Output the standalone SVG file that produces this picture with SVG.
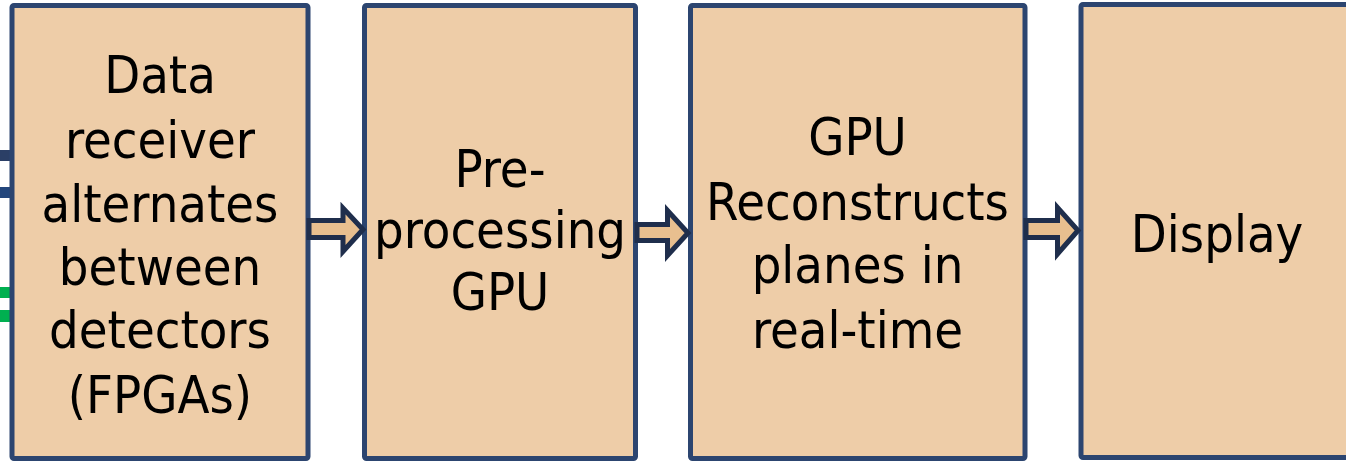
<svg xmlns="http://www.w3.org/2000/svg" width="1346" height="461" viewBox="0 0 1346 461">
<style>
.box{fill:#eecda8;stroke:#2c4570;stroke-width:5}
.lbl{font-family:"DejaVu Sans Condensed","DejaVu Sans","Liberation Sans",sans-serif;font-size:52px;fill:#000;text-anchor:middle}
.arr{fill:#e8bf8f;stroke:#1f2e4c;stroke-width:5;stroke-linejoin:miter}
</style>
<rect width="1346" height="461" fill="#fff"/>
<g id="connectors">
<rect x="0" y="150" width="11" height="11" fill="#2b3f66"/>
<rect x="0" y="187" width="11" height="11" fill="#23467c"/>
<rect x="0" y="287" width="11" height="11" fill="#00b050"/>
<rect x="0" y="310" width="11" height="12" fill="#00b050"/>
</g>
<g id="node-receiver">
<rect class="box" x="12" y="5.5" width="296" height="453" rx="2"/>
<text class="lbl" x="160" y="93">Data</text>
<text class="lbl" x="160" y="158">receiver</text>
<text class="lbl" x="160" y="221.5">alternates</text>
<text class="lbl" x="160" y="285">between</text>
<text class="lbl" x="160" y="348">detectors</text>
<text class="lbl" x="160" y="413">(FPGAs)</text>
</g>
<g id="node-preprocessing">
<rect class="box" x="364.5" y="5.5" width="271" height="453" rx="2"/>
<text class="lbl" x="500" y="186.5">Pre-</text>
<text class="lbl" x="500" y="248">processing</text>
<text class="lbl" x="500" y="310">GPU</text>
</g>
<g id="node-reconstruct">
<rect class="box" x="690.5" y="5.5" width="334.5" height="453" rx="2"/>
<text class="lbl" x="857.5" y="155">GPU</text>
<text class="lbl" x="857.5" y="220">Reconstructs</text>
<text class="lbl" x="857.5" y="283">planes in</text>
<text class="lbl" x="857.5" y="348">real-time</text>
</g>
<g id="node-display">
<rect class="box" x="1081" y="4.5" width="280" height="453" rx="2"/>
<text class="lbl" x="1217" y="251.5">Display</text>
</g>
<g id="arrows">
<path class="arr" d="M309,220.5 H343 V208 L363,229.5 L343,251.5 V237.5 H309 Z"/>
<path class="arr" d="M637,224.5 H667.5 V210.5 L688,233 L667.5,255.5 V240.5 H637 Z"/>
<path class="arr" d="M1026,220.5 H1057.5 V207.5 L1078,230.5 L1057.5,254 V237.5 H1026 Z"/>
</g>
</svg>
